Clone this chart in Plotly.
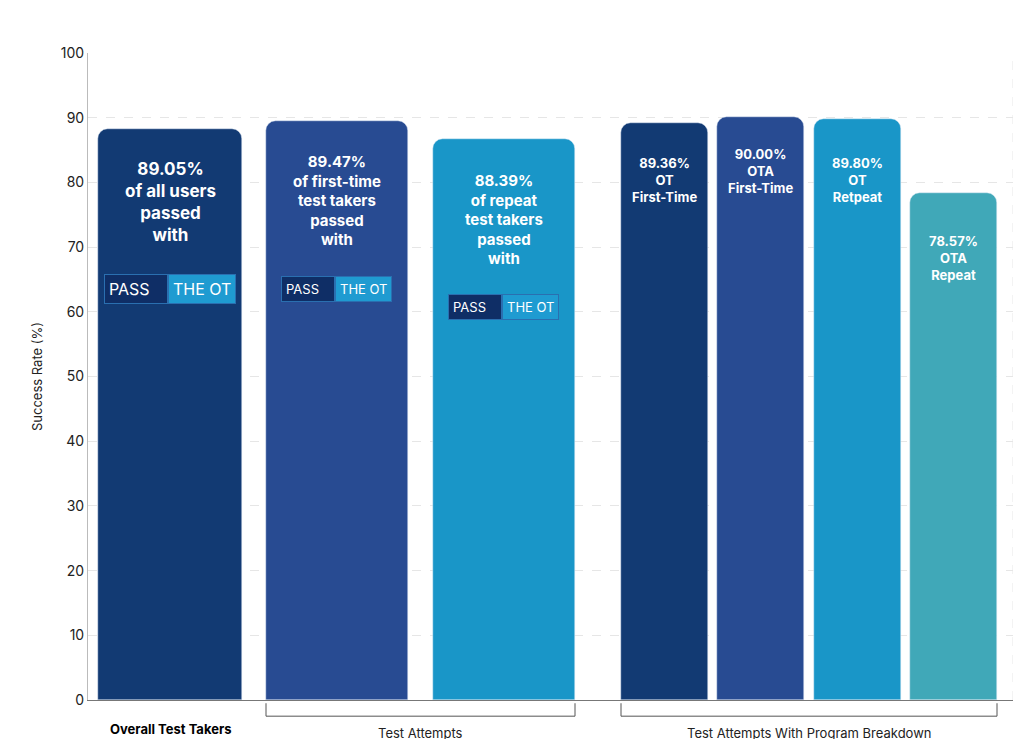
import plotly.graph_objects as go

labels = ["89.05%<br>of all users<br>passed<br>with",
          "89.47%<br>of first-time<br>test takers<br>passed<br>with",
          "88.39%<br>of repeat<br>test takers<br>passed<br>with",
          "89.36%<br>OT<br>First-Time", "90.00%<br>OTA<br>First-Time",
          "89.80%<br>OT<br>Retpeat", "78.57%<br>OTA<br>Repeat"]
heights = [88.3, 89.5, 86.7, 89.2, 90.1, 89.8, 78.4]
xpos = [82, 249, 416, 576.5, 672.5, 769.5, 865.5]
widths = [144, 142, 142, 87, 87, 87, 87]
colors = ["#123a73", "#284b92", "#1996c8", "#123a73", "#284b92", "#1996c8", "#40a8b8"]
groups = ["Overall Test Takers", "Test Attempts", "Test Attempts With Program Breakdown"]

fig = go.Figure(go.Bar(x=xpos, y=heights, width=widths, marker=dict(color=colors, cornerradius=10),
                       hoverinfo="skip"))

font = "Inter"
text_top = [84, 85, 82, 84.5, 86, 84.5, 72.5]
sizes = [17, 15, 15, 13, 13, 13, 13]
for x, t, y, s in zip(xpos, labels, text_top, sizes):
    fig.add_annotation(x=x, y=y, text="<b>" + t + "</b>", showarrow=False, yanchor="top",
                       font=dict(family=font, size=s, color="white"), align="center")

# PASS THE OT badges
for x, y, s in [(82, 63.5, 16), (249, 63.5, 13), (416, 60.8, 13)]:
    fig.add_annotation(x=x - 2, y=y, text="PASS  <span style='background:#1f9bd1'> </span>", showarrow=False,
                       xanchor="right", font=dict(family=font, size=s, color="white"),
                       bgcolor="#0f2e66", bordercolor="#2a6fb0", borderwidth=1, borderpad=4)
    fig.add_annotation(x=x - 2, y=y, text="THE OT", showarrow=False, xanchor="left",
                       font=dict(family=font, size=s, color="white"),
                       bgcolor="#1f9bd1", bordercolor="#2a6fb0", borderwidth=1, borderpad=4)

# group brackets and labels
fig.add_annotation(x=82, y=-0.03, yref="paper", text="<b>" + groups[0] + "</b>", showarrow=False,
                   yanchor="top", font=dict(family=font, size=13, color="black"))
for (x0, x1), g in [((178, 487), groups[1]), ((533, 909), groups[2])]:
    fig.add_shape(type="path", xref="x", yref="paper",
                  path=f"M {x0} -0.005 L {x0} -0.025 L {x1} -0.025 L {x1} -0.005",
                  line=dict(color="#555", width=1))
    fig.add_annotation(x=(x0 + x1) / 2, y=-0.035, yref="paper", text=g, showarrow=False,
                       yanchor="top", font=dict(family=font, size=13, color="#222"))

fig.update_layout(
    width=1024, height=739, margin=dict(l=80, r=19, t=45, b=47),
    plot_bgcolor="white", paper_bgcolor="white", showlegend=False, bargap=0,
    xaxis=dict(range=[0, 925], showticklabels=False, showgrid=False, zeroline=False,
               showline=True, linecolor="#777", mirror=False),
    yaxis=dict(range=[0, 100], dtick=10, showgrid=True, gridcolor="#e6e6e6", griddash="dash",
               zeroline=False, showline=True, linecolor="#bbb", ticks="",
               title=dict(text="Success Rate (%)", font=dict(family=font, size=13, color="#222")),
               tickfont=dict(family=font, size=14, color="#222")),
)
fig.add_vline(x=925, line=dict(color="#e6e6e6", dash="dash", width=1))
fig.write_html("out.html")
